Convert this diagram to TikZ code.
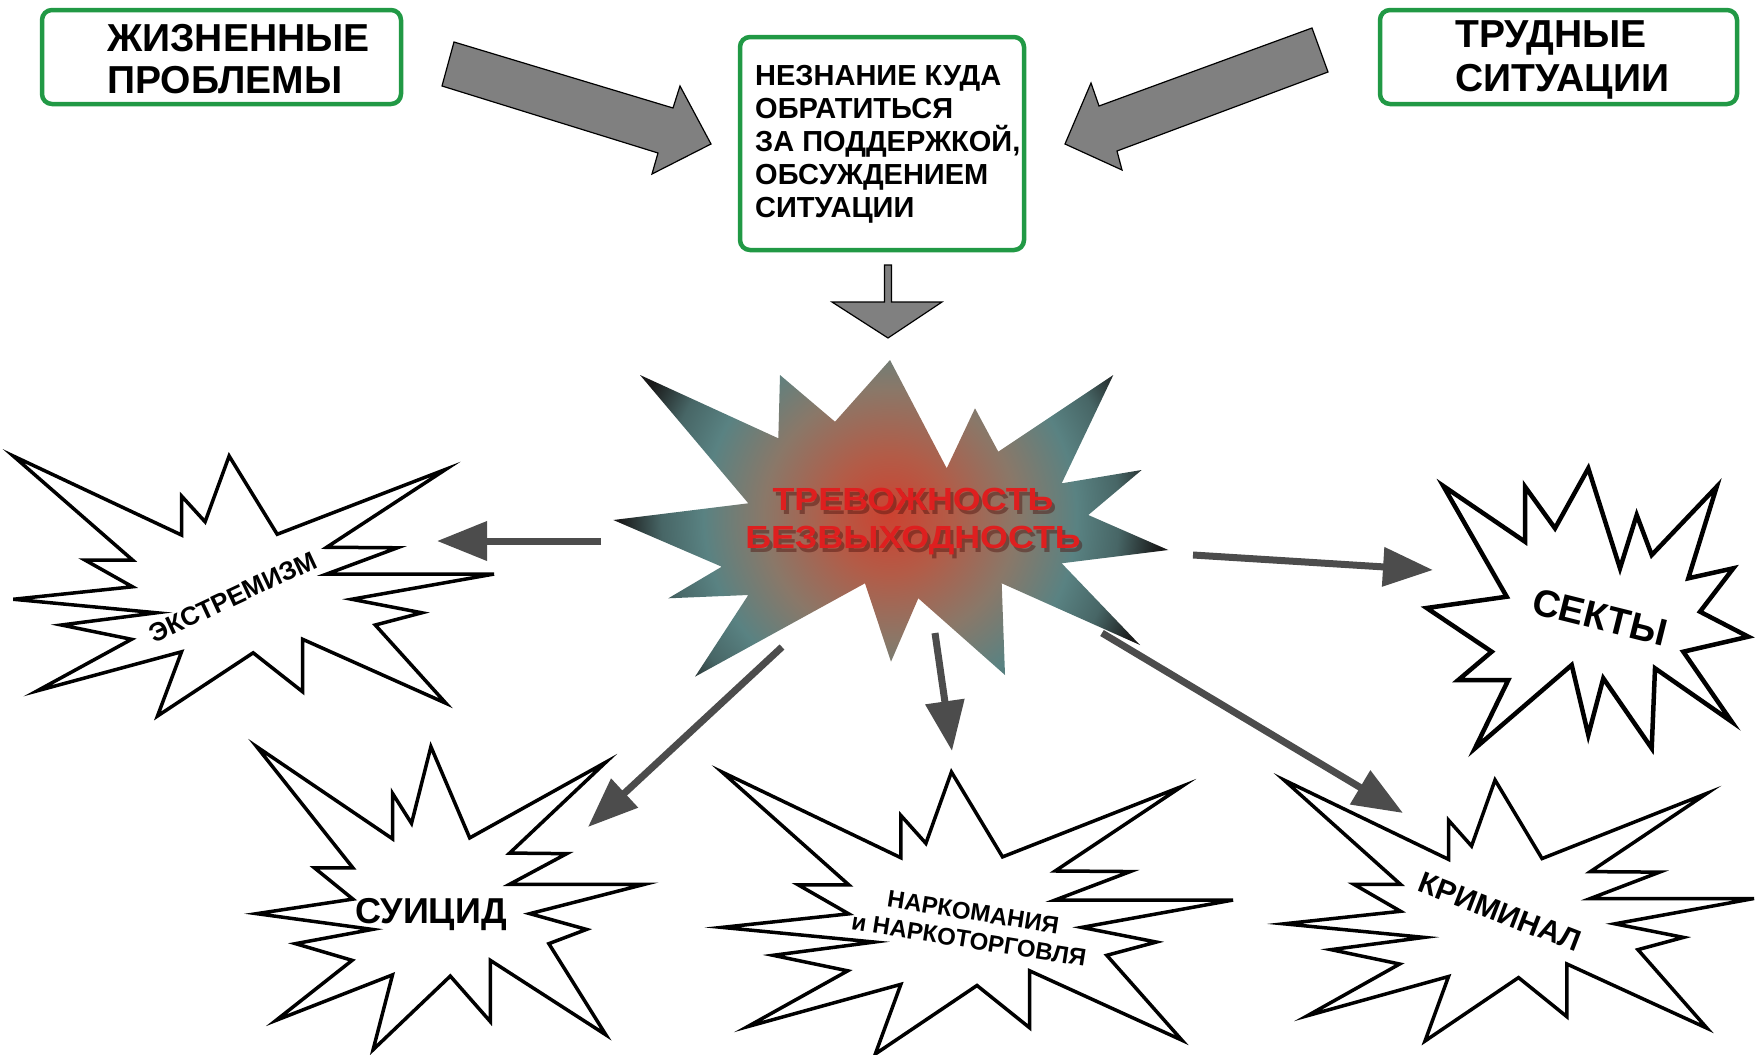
\documentclass[tikz,border=0pt]{standalone}
\usepackage{fontspec}
\usepackage{tikz}
\usetikzlibrary{arrows.meta}
\setmainfont{Liberation Sans}
\newfontfamily\widefont{Liberation Sans}[FakeStretch=1.12]
\definecolor{mgreen}{rgb}{0.13, 0.6, 0.27}
\definecolor{mgray}{rgb}{0.5, 0.5, 0.5}
\definecolor{mdark}{rgb}{0.3, 0.3, 0.3}
\definecolor{mred}{rgb}{0.87, 0.12, 0.12}
\definecolor{mshadow}{rgb}{0.3, 0.07, 0.05}
\definecolor{sred}{rgb}{0.8, 0.26, 0.19}
\definecolor{sred2}{rgb}{0.7, 0.36, 0.28}
\definecolor{sbrown}{rgb}{0.54, 0.47, 0.41}
\definecolor{steal}{rgb}{0.35, 0.51, 0.51}
\definecolor{steal2}{rgb}{0.28, 0.4, 0.4}
\definecolor{sdark}{rgb}{0.1, 0.1, 0.1}
\pgfdeclareradialshading{alarm}{\pgfpoint{0bp}{0bp}}{color(0bp)=(sred); color(10bp)=(sred2); color(21bp)=(sbrown); color(31bp)=(steal); color(38bp)=(steal2); color(45bp)=(sdark); color(50bp)=(sdark)}
\tikzset{greenbox/.style = {draw=mgreen, line width=4.5pt, rounded corners=10pt, inner sep=0pt},
         bigtext/.style = {font=\bfseries\fontsize{39}{43}\selectfont, inner sep=0pt, anchor=base west},
         helptext/.style = {font=\bfseries\fontsize{29}{33}\selectfont, inner sep=0pt, anchor=base west},
         alarmtext/.style = {font=\widefont\bfseries\fontsize{32}{36}\selectfont, inner sep=0pt, anchor=base},
         blockarrow/.style = {fill=mgray, draw=black, line width=1.2pt, line join=miter},
         burstline/.style = {draw=black, fill=white, line width=3.5pt, line join=miter},
         boomtext/.style = {inner sep=0pt},
         thinarrow/.style = {draw=mdark, line width=7pt, -{Triangle[length=50pt, width=38pt]}},
         boom/.pic = {
           \draw[burstline] (0,0) -- (0.35,0.304) -- (0.35,0.154) -- (0.399,0.253) -- (0.449,0)
             -- (0.549,0.301) -- (0.9,0.051) -- (0.652,0.351) -- (0.799,0.353) -- (0.652,0.454)
             -- (1,0.454) -- (0.704,0.551) -- (0.85,0.603) -- (0.753,0.65) -- (0.9,0.951)
             -- (0.602,0.705) -- (0.602,0.907) -- (0.499,0.757) -- (0.3,1) -- (0.35,0.753)
             -- (0.05,0.903) -- (0.246,0.705) -- (0.1,0.65) -- (0.298,0.603) -- (0,0.551)
             -- (0.248,0.503) -- (0.149,0.4) -- (0.248,0.4) -- cycle;
         }}

\begin{document}
\begin{tikzpicture}[x=1pt, y=-1pt]
    \useasboundingbox (0,0) rectangle (1762,1055);
    \node [greenbox, minimum width=359pt, minimum height=94pt] (lifebox) at (221.5,57) {};
    \node [bigtext] (life1) at (107,51) {ЖИЗНЕННЫЕ};
    \node [bigtext] (life2) at (107,93) {ПРОБЛЕМЫ};
    \node [greenbox, minimum width=357pt, minimum height=94pt] (hardbox) at (1558.5,57) {};
    \node [bigtext] (hard1) at (1455,47) {ТРУДНЫЕ};
    \node [bigtext] (hard2) at (1455,91) {СИТУАЦИИ};
    \node [greenbox, minimum width=284pt, minimum height=213pt] (helpbox) at (882,143.5) {};
    \node [helptext] (help1) at (755,85) {НЕЗНАНИЕ КУДА};
    \node [helptext] (help2) at (755,118) {ОБРАТИТЬСЯ};
    \node [helptext] (help3) at (755,151) {ЗА ПОДДЕРЖКОЙ,};
    \node [helptext] (help4) at (755,184) {ОБСУЖДЕНИЕМ};
    \node [helptext] (help5) at (755,217) {СИТУАЦИИ};

    \draw [blockarrow] (454,42) -- (673,108) -- (680,86) -- (711,144) -- (652,174) -- (658,153) -- (442,86) -- cycle;
    \draw [blockarrow] (1312,28) -- (1099,106) -- (1091,83) -- (1065,144) -- (1122,170) -- (1117,151) -- (1328,72) -- cycle;
    \draw [blockarrow] (884.5,265) -- (891.5,265) -- (891.5,302) -- (942,302) -- (888,338) -- (832,302) -- (884.5,302) -- cycle;

    \begin{scope}
      \clip (890,360) -- (946.7,468.3) -- (975,408.3) -- (998.3,451.7) -- (1113.3,375) -- (1061.7,483.3)
        -- (1141.7,470) -- (1088.3,515) -- (1168.3,550) -- (1061.7,563.3) -- (1140,645) -- (1001.7,583.3)
        -- (1005,675) -- (918.3,598.3) -- (891,661.7) -- (865,583.3) -- (695,676.7) -- (748.3,595)
        -- (668.3,598.3) -- (721.7,566.7) -- (613.3,520) -- (748.3,503.3) -- (640,375) -- (778.3,438.3)
        -- (780,375) -- (835,421.7) -- cycle;
      \node [inner sep=0pt] (alarmfill) at (890,515) {\scalebox{6}{\pgfuseshading{alarm}}};
    \end{scope}
    \node [alarmtext, text=mshadow, opacity=0.45] (glow1) at (916,514) {ТРЕВОЖНОСТЬ};
    \node [alarmtext, text=mshadow, opacity=0.45] (glow2) at (916,552) {БЕЗВЫХОДНОСТЬ};
    \node [alarmtext, text=mred] (alarm1) at (913,510) {ТРЕВОЖНОСТЬ};
    \node [alarmtext, text=mred] (alarm2) at (913,548) {БЕЗВЫХОДНОСТЬ};

    \pic [xscale=480.7, yscale=260] at (13.3,456) {boom};
    \pic [xscale=388, yscale=303] at (256.7,746.7) {boom};
    \pic [xscale=511, yscale=282] at (722,772) {boom};
    \pic [xscale=470, yscale=261] at (1284,780) {boom};
    \draw [burstline, line width=4.5pt] (1443.3,486) -- (1525,541.7) -- (1525,486.7) -- (1555,528.3) -- (1588.3,468.3)
      -- (1620,568.3) -- (1636.7,515) -- (1651.7,555) -- (1716.7,486.7) -- (1688.3,578.3) -- (1733.3,568.3)
      -- (1700,611.7) -- (1748.3,636.7) -- (1683.3,651.7) -- (1731.7,721.7) -- (1655,668.3) -- (1651.7,748.3)
      -- (1603.3,678.3) -- (1588.3,735) -- (1571.7,665) -- (1475,748.3) -- (1508.3,680) -- (1458.3,680)
      -- (1491.7,651.7) -- (1426.7,608) -- (1506.7,596.7) -- cycle;

    \node [boomtext, rotate=25, font=\bfseries\fontsize{26}{30}\selectfont] (extr) at (233,597) {ЭКСТРЕМИЗМ};
    \node [boomtext, anchor=base, font=\bfseries\fontsize{36}{40}\selectfont] (suic) at (431,923) {СУИЦИД};
    \node [boomtext, rotate=-9, align=center, font=\bfseries\fontsize{24}{28}\selectfont] (nark) at (971,926) {НАРКОМАНИЯ\\и НАРКОТОРГОВЛЯ};
    \node [boomtext, rotate=-21, font=\bfseries\fontsize{30}{34}\selectfont] (crim) at (1500,912) {КРИМИНАЛ};
    \node [boomtext, rotate=-14, font=\bfseries\fontsize{38}{42}\selectfont] (sekty) at (1600,617) {СЕКТЫ};

    \coordinate (fromW) at (601,541);
    \coordinate (toExtr) at (437,541);
    \coordinate (fromE) at (1193,555);
    \coordinate (toSekty) at (1433,570);
    \coordinate (fromSW) at (782,647);
    \coordinate (toSuic) at (588,827);
    \coordinate (fromS) at (935,633);
    \coordinate (toNark) at (952,751);
    \coordinate (fromSE) at (1102,633);
    \coordinate (toCrim) at (1403,813);
    \draw [thinarrow] (fromW) -- (toExtr);
    \draw [thinarrow] (fromE) -- (toSekty);
    \draw [thinarrow] (fromSW) -- (toSuic);
    \draw [thinarrow] (fromS) -- (toNark);
    \draw [thinarrow] (fromSE) -- (toCrim);
  \end{tikzpicture}
\end{document}
